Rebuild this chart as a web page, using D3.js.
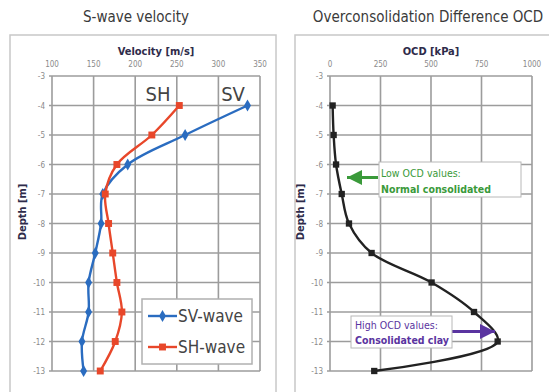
<!DOCTYPE html>
<html>
<head>
<meta charset="utf-8">
<script src="https://cdn.jsdelivr.net/npm/d3@7"></script>
<style>
  body { margin: 0; background: #fff; }
  text { font-family: "Liberation Sans Narrow", "DejaVu Sans Condensed", "Liberation Sans", sans-serif; }
</style>
</head>
<body>
<script>
var width = 549;
var height = 392;

// data
var depths = [-4, -5, -6, -7, -8, -9, -10, -11, -12, -13];
var svWave = [335, 260, 191, 161, 159, 152, 144, 144, 136, 138];
var shWave = [253, 220, 178, 164, 168, 173, 178, 184, 176, 158];
var ocd = [13, 18, 30, 58, 94, 206, 503, 713, 830, 219];
var velTicks = [100, 150, 200, 250, 300, 350];
var ocdTicks = [0, 250, 500, 750, 1000];
var depthTicks = [-3, -4, -5, -6, -7, -8, -9, -10, -11, -12, -13];

var svg = d3.select('body').append('svg')
  .attr('width', width)
  .attr('height', height);

var y = d3.scaleLinear().domain([-3, -13]).range([76, 371]);

var drawPanel = function(opt) {
  var g = svg.append('g');
  var x = d3.scaleLinear().domain(opt.domain).range(opt.range);

  // outer frame
  g.append('rect')
    .attr('x', opt.box[0]).attr('y', 35)
    .attr('width', opt.box[1] - opt.box[0]).attr('height', 400)
    .attr('fill', 'none').attr('stroke', '#c8c8c8').attr('stroke-width', 1.5);

  g.append('text')
    .attr('x', opt.titleX).attr('y', 22)
    .attr('text-anchor', 'middle')
    .attr('font-size', 15).attr('fill', '#3a3a3a')
    .text(opt.title);

  g.append('text')
    .attr('x', (opt.range[0] + opt.range[1]) / 2).attr('y', 55)
    .attr('text-anchor', 'middle')
    .attr('font-size', 11).attr('font-weight', 'bold').attr('fill', '#2e2b4a')
    .text(opt.xTitle);

  // grid
  g.selectAll('.vgrid').data(opt.ticks).enter().append('line')
    .attr('x1', function(d) { return x(d); }).attr('x2', function(d) { return x(d); })
    .attr('y1', y(-3)).attr('y2', y(-13))
    .attr('stroke', '#9c9c9c').attr('stroke-width', 1.6);
  g.selectAll('.hgrid').data(depthTicks).enter().append('line')
    .attr('x1', opt.range[0] - 3).attr('x2', opt.range[1])
    .attr('y1', function(d) { return y(d); }).attr('y2', function(d) { return y(d); })
    .attr('stroke', '#9c9c9c').attr('stroke-width', 1.6);

  g.selectAll('.xl').data(opt.ticks).enter().append('text')
    .attr('x', function(d) { return x(d); }).attr('y', 67)
    .attr('text-anchor', 'middle')
    .attr('font-size', 8).attr('fill', '#8a8a8a')
    .text(function(d) { return d; });
  g.selectAll('.yl').data(depthTicks).enter().append('text')
    .attr('x', opt.range[0] - 7).attr('y', function(d) { return y(d) + 3; })
    .attr('text-anchor', 'end')
    .attr('font-size', 8).attr('fill', '#8a8a8a')
    .text(function(d) { return d; });

  g.append('text')
    .attr('transform', 'translate(' + (opt.range[0] - 26) + ',212) rotate(-90)')
    .attr('text-anchor', 'middle')
    .attr('font-size', 11).attr('font-weight', 'bold').attr('fill', '#2e2b4a')
    .text('Depth [m]');

  return { g: g, x: x };
};

var curve = d3.curveCatmullRom.alpha(0.5);

var addSeries = function(p, values, color, shape, size) {
  var line = d3.line()
    .x(function(d, i) { return p.x(d); })
    .y(function(d, i) { return y(depths[i]); })
    .curve(curve);
  p.g.append('path').datum(values)
    .attr('d', line)
    .attr('fill', 'none').attr('stroke', color).attr('stroke-width', 2.4);
  p.g.selectAll(null).data(values).enter().append('path')
    .attr('transform', function(d, i) { return 'translate(' + p.x(d) + ',' + y(depths[i]) + ')'; })
    .attr('d', d3.symbol().type(shape).size(size))
    .attr('fill', color);
};

// left panel
var left = drawPanel({
  domain: [100, 350], range: [52, 260], ticks: velTicks,
  box: [10, 276], title: 'S-wave velocity', titleX: 136, xTitle: 'Velocity [m/s]'
});
addSeries(left, svWave, '#2a6cc0', d3.symbolDiamond, 42);
addSeries(left, shWave, '#e8472a', d3.symbolSquare, 48);

left.g.append('text').attr('x', 158).attr('y', 101)
  .attr('text-anchor', 'middle').attr('font-size', 20).attr('fill', '#444')
  .attr('font-family', 'Liberation Sans, sans-serif')
  .text('SH');
left.g.append('text').attr('x', 233).attr('y', 101)
  .attr('text-anchor', 'middle').attr('font-size', 20).attr('fill', '#444')
  .attr('font-family', 'Liberation Sans, sans-serif')
  .text('SV');

// legend
var legendItems = [
  { name: 'SV-wave', color: '#2a6cc0', shape: d3.symbolDiamond, size: 42 },
  { name: 'SH-wave', color: '#e8472a', shape: d3.symbolSquare, size: 48 }
];
left.g.append('rect').attr('x', 142).attr('y', 299).attr('width', 110).attr('height', 65)
  .attr('fill', '#fff').attr('stroke', '#b0b0b0').attr('stroke-width', 1.5);
var leg = left.g.selectAll('.leg').data(legendItems).enter().append('g')
  .attr('transform', function(d, i) { return 'translate(148,' + (316 + i * 31) + ')'; });
leg.append('line').attr('x1', 0).attr('x2', 29).attr('stroke', function(d) { return d.color; }).attr('stroke-width', 2.4);
leg.append('path').attr('transform', 'translate(14.5,0)')
  .attr('d', function(d) { return d3.symbol().type(d.shape).size(d.size)(); })
  .attr('fill', function(d) { return d.color; });
leg.append('text').attr('x', 30).attr('y', 6)
  .attr('font-size', 17).attr('fill', '#444')
  .attr('font-family', 'Liberation Sans, sans-serif')
  .text(function(d) { return d.name; });

// right panel
var right = drawPanel({
  domain: [0, 1000], range: [330, 532], ticks: ocdTicks,
  box: [295, 560], title: 'Overconsolidation Difference OCD', titleX: 428, xTitle: 'OCD  [kPa]'
});
addSeries(right, ocd, '#222', d3.symbolSquare, 40);

var defs = svg.append('defs');
var marker = function(id, color) {
  defs.append('marker').attr('id', id)
    .attr('viewBox', '0 0 10 10').attr('refX', 10).attr('refY', 5)
    .attr('markerWidth', 5).attr('markerHeight', 5).attr('markerUnits', 'strokeWidth')
    .attr('orient', 'auto')
    .append('path').attr('d', 'M0,0L10,5L0,10Z').attr('fill', color);
};
marker('ag', '#3a9a3a');
marker('ap', '#5a34a0');

// low OCD note
right.g.append('line').attr('x1', 378).attr('y1', 177.5).attr('x2', 347).attr('y2', 177.5)
  .attr('stroke', '#3a9a3a').attr('stroke-width', 3).attr('marker-end', 'url(#ag)');
right.g.append('rect').attr('x', 379).attr('y', 162).attr('width', 142).attr('height', 35)
  .attr('fill', '#fff').attr('stroke', '#b8b8b8').attr('stroke-width', 1);
right.g.append('text').attr('x', 381).attr('y', 177).attr('font-size', 10.5).attr('fill', '#3a9a3a')
  .text('Low OCD values:');
right.g.append('text').attr('x', 381).attr('y', 193).attr('font-size', 10.5).attr('font-weight', 'bold').attr('fill', '#3a9a3a')
  .text('Normal consolidated');

// high OCD note
right.g.append('line').attr('x1', 451).attr('y1', 331.5).attr('x2', 495).attr('y2', 331.5)
  .attr('stroke', '#5a34a0').attr('stroke-width', 3).attr('marker-end', 'url(#ap)');
right.g.append('rect').attr('x', 351).attr('y', 316).attr('width', 101).attr('height', 32)
  .attr('fill', '#fff').attr('stroke', '#b8b8b8').attr('stroke-width', 1);
right.g.append('text').attr('x', 355).attr('y', 329).attr('font-size', 10.5).attr('fill', '#5a34a0')
  .text('High OCD values:');
right.g.append('text').attr('x', 355).attr('y', 344).attr('font-size', 10.5).attr('font-weight', 'bold').attr('fill', '#5a34a0')
  .text('Consolidated clay');
</script>
</body>
</html>
